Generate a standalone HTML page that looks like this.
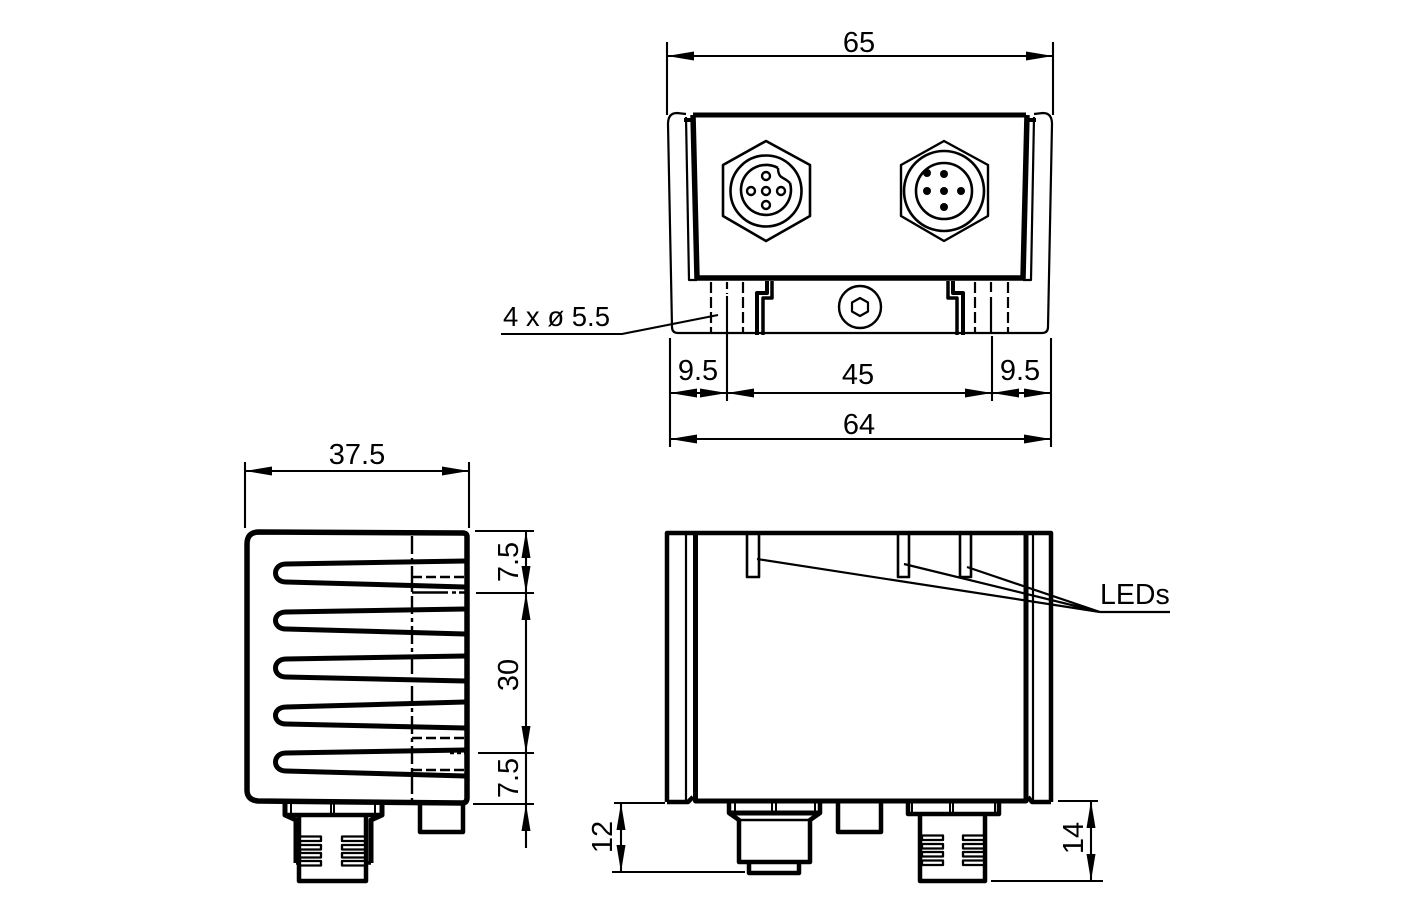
<!DOCTYPE html>
<html lang="en">
<head>
<meta charset="utf-8">
<title>Drawing</title>
<style>
html,body{margin:0;padding:0;background:#fff}
svg{display:block}
text{font-family:"Liberation Sans",sans-serif;font-size:29px;fill:#000}
</style>
</head>
<body>
<svg width="1417" height="909" viewBox="0 0 1417 909" xmlns="http://www.w3.org/2000/svg">
<defs>
<marker id="a" markerUnits="userSpaceOnUse" markerWidth="28" markerHeight="10" refX="27" refY="5" orient="auto-start-reverse">
<path d="M0 0.500L27 5L0 9.500Z" fill="#000"/>
</marker>
</defs>

<!-- TOP VIEW -->
<g fill="none" stroke="#000" stroke-linejoin="round">
<path d="M686 114L677 113Q668 113 668 124L672 327Q672 333 678 333L1042 333Q1048 333 1048 327L1052 124Q1052 113 1043 113L1034 114" stroke-width="2.200"/>
<path d="M686 117L689 280L697 280M1034 117L1031 280L1023 280" stroke-width="2.200"/>
<path d="M684 120L693 120M1027 120L1036 120" stroke-width="4"/>
<path d="M693 115L1026 115" stroke-width="5"/>
<path d="M693 115L697 278L1023 278L1027 115" stroke-width="5.500"/>
<!-- hex 1 -->
<path d="M766 141L810 165L810 216L766 241L723 216L723 165Z" stroke-width="2.600"/>
<circle cx="766" cy="191" r="35.500" stroke-width="2.600"/>
<path d="M778 168A25 25 0 1 0 790 183" stroke-width="2.600"/>
<path d="M778 168Q778 176 783 178Q787 180 790 183" stroke-width="2.400"/>
<circle cx="766" cy="176" r="4" stroke-width="2.400"/>
<circle cx="766" cy="191" r="4" stroke-width="2.400"/>
<circle cx="766" cy="205" r="4" stroke-width="2.400"/>
<circle cx="751" cy="191" r="4" stroke-width="2.400"/>
<circle cx="781" cy="191" r="4" stroke-width="2.400"/>
<!-- hex 2 -->
<path d="M944 141L988 165L988 216L944 241L901 216L901 165Z" stroke-width="2.400"/>
<circle cx="944" cy="191" r="40" stroke-width="2.600"/>
<circle cx="944" cy="191" r="28" stroke-width="2.600"/>
<g fill="#000" stroke="none">
<circle cx="927" cy="173" r="4"/><circle cx="944" cy="174" r="4"/>
<circle cx="927" cy="191" r="4"/><circle cx="944" cy="191" r="4"/><circle cx="961" cy="191" r="4"/>
<circle cx="944" cy="207" r="4"/>
</g>
<!-- steps -->
<path d="M757 335L757 293L767 293L767 281" stroke-width="4"/>
<path d="M763 335L763 298L772 298L772 281" stroke-width="3.500"/>
<path d="M963 335L963 293L953 293L953 281" stroke-width="4"/>
<path d="M957 335L957 298L948 298L948 281" stroke-width="3.500"/>
<!-- screw -->
<circle cx="860" cy="307" r="21" stroke-width="2.400"/>
<path d="M860 298L868 302.500L868 311.500L860 316L852 311.500L852 302.500Z" stroke-width="2.200"/>
<!-- hidden lines -->
<path d="M711 282L711 333M743 282L743 333M975 282L975 333M1008 282L1008 333" stroke-width="2.200" stroke-dasharray="11 4"/>
<path d="M727 282L727 294" stroke-width="2.200" stroke-dasharray="7 4"/>
<path d="M991 282L991 333" stroke-width="2.200" stroke-dasharray="10 5 33 0"/>
</g>

<!-- TOP VIEW DIMENSIONS -->
<g fill="none" stroke="#000" stroke-width="2.100">
<path d="M667 42L667 115M1053 42L1053 115"/>
<path d="M667 56L1053 56" marker-start="url(#a)" marker-end="url(#a)"/>
<path d="M670 338L670 447M1051 338L1051 447M727 296L727 401M992 336L992 401"/>
<path d="M670 393L727 393" marker-start="url(#a)"/>
<path d="M727 393L700 393" marker-start="url(#a)"/>
<path d="M727 393L992 393" marker-start="url(#a)" marker-end="url(#a)"/>
<path d="M992 393L1051 393" marker-start="url(#a)" marker-end="url(#a)"/>
<path d="M670 439L1051 439" marker-start="url(#a)" marker-end="url(#a)"/>
<path d="M501 334L622 334L718 315"/>
</g>
<text x="859" y="52" text-anchor="middle">65</text>
<text x="698" y="380" text-anchor="middle">9.5</text>
<text x="858" y="384" text-anchor="middle">45</text>
<text x="1020" y="380" text-anchor="middle">9.5</text>
<text x="859" y="434" text-anchor="middle">64</text>
<text x="503" y="326" style="font-size:27.500px">4 x ø 5.5</text>

<!-- SIDE VIEW -->
<g fill="none" stroke="#000" stroke-linejoin="round" stroke-linecap="round">
<path d="M259 532L463 533Q467 533 467 537L467 798Q467 803 462 803L258 801Q247 800 247 790L247 544Q247 532 259 532Z" stroke-width="5.500"/>
<g stroke-width="5">
<path d="M465 561L286 564C272 564 272 582 286 582L465 587"/>
<path d="M465 609L286 612C272 612 272 629 286 629L465 634"/>
<path d="M465 656L286 659C272 659 272 677 286 677L465 681"/>
<path d="M465 702L286 707C272 707 272 724 286 724L465 728"/>
<path d="M465 750L286 753C272 753 272 771 286 771L465 776"/>
</g>
</g>
<g fill="none" stroke="#000" stroke-width="2.400">
<path d="M412 536L412 802" stroke-dasharray="18 4 4 4"/>
<path d="M412 577L465 577M412 738L465 738M412 770L465 770" stroke-dasharray="10 4"/>
<path d="M412 592.500L448 592.500M452 592.500L456 592.500M459 592.500L465 592.500"/>
<path d="M450 753L465 753" stroke-dasharray="4 3"/>
</g>
<!-- side connector -->
<g fill="none" stroke="#000" stroke-linejoin="round">
<path d="M285 803L285 815L296 820L296 863M382 803L382 815L371 820L371 863" stroke-width="5"/>
<path d="M285 815L382 815" stroke-width="4.500"/>
<path d="M291 803L291 814M331 803L331 814M334 803L334 814M375 803L375 814" stroke-width="2"/>
<path d="M299 816L299 881L366 881L366 816" stroke-width="4.500"/>
<path d="M296 863L299 863M366 863L371 863" stroke-width="3.500"/>
<g fill="#fff" stroke-width="2.300">
<rect x="300" y="836.500" width="21" height="4.500"/><rect x="300" y="845" width="21" height="4.500"/><rect x="300" y="853" width="21" height="4.500"/><rect x="300" y="861" width="21" height="4.500"/>
<rect x="342" y="836.500" width="23" height="4.500"/><rect x="342" y="845" width="23" height="4.500"/><rect x="342" y="853" width="23" height="4.500"/><rect x="342" y="861" width="23" height="4.500"/>
</g>
<path d="M420 804L420 832L463 832L463 804" stroke-width="4.500"/>
</g>

<!-- SIDE DIMENSIONS -->
<g fill="none" stroke="#000" stroke-width="2.100">
<path d="M245 462L245 528M469 462L469 528"/>
<path d="M245 471L469 471" marker-start="url(#a)" marker-end="url(#a)"/>
<path d="M475 531L534 531M476 593L534 593M478 753L534 753M473 804L534 804"/>
<path d="M526 531L526 593" marker-start="url(#a)" marker-end="url(#a)"/>
<path d="M526 593L526 753" marker-start="url(#a)" marker-end="url(#a)"/>
<path d="M526 753L526 804"/>
<path d="M526 848L526 804" marker-end="url(#a)"/>
</g>
<text x="357" y="464" text-anchor="middle">37.5</text>
<text transform="translate(518 562) rotate(-90)" text-anchor="middle">7.5</text>
<text transform="translate(518 675) rotate(-90)" text-anchor="middle">30</text>
<text transform="translate(518 778) rotate(-90)" text-anchor="middle">7.5</text>

<!-- FRONT VIEW -->
<g fill="none" stroke="#000" stroke-linejoin="round">
<path d="M667 802L667 533L1051 533L1051 802" stroke-width="4.500"/>
<path d="M667 802L688 802L693 797M1051 802L1032 802L1028 797" stroke-width="4.500"/>
<path d="M686 535L686 800M1033 535L1033 800" stroke-width="2.200"/>
<path d="M695.500 535L695.500 801L1026 801L1026 535" stroke-width="5"/>
<path d="M747 535L747 577L759 577L759 535M898 535L898 577L909 577L909 535M960 535L960 577L971 577L971 535" stroke-width="2.600"/>
<path d="M757 559L1100 612M904 564L1100 612M967 567L1100 612M1100 612L1170 612" stroke-width="2.200"/>
<!-- left connector -->
<path d="M729 803L729 813L739 820L739 862L810 862L810 820L820 813L820 803" stroke-width="4.500"/>
<path d="M729 813L820 813" stroke-width="5"/>
<path d="M739 820L810 820" stroke-width="2.400"/>
<path d="M735 803L735 812M772 803L772 812M776 803L776 812M815 803L815 812" stroke-width="2"/>
<path d="M749 863L749 873L799 873L799 863" stroke-width="4.500"/>
<!-- block -->
<path d="M838 803L838 832L881 832L881 803" stroke-width="4.500"/>
<!-- right connector -->
<path d="M908 803L908 814L999 814L999 803" stroke-width="4.500"/>
<path d="M912 803L912 812M950 803L950 812M953 803L953 812M995 803L995 812" stroke-width="2"/>
<path d="M920 815L920 881L985 881L985 815" stroke-width="4.500"/>
<g fill="#fff" stroke-width="2.300">
<rect x="922" y="835.500" width="21" height="4.500"/><rect x="922" y="844" width="21" height="4.500"/><rect x="922" y="852" width="21" height="4.500"/><rect x="922" y="860.500" width="21" height="4.500"/>
<rect x="963" y="835.500" width="21" height="4.500"/><rect x="963" y="844" width="21" height="4.500"/><rect x="963" y="852" width="21" height="4.500"/><rect x="963" y="860.500" width="21" height="4.500"/>
</g>
</g>

<!-- FRONT DIMENSIONS -->
<g fill="none" stroke="#000" stroke-width="2.100">
<path d="M614 803L665 803M612 872L745 872"/>
<path d="M621 803L621 872" marker-start="url(#a)" marker-end="url(#a)"/>
<path d="M1058 801L1098 801M991 881L1103 881"/>
<path d="M1091 801L1091 881" marker-start="url(#a)" marker-end="url(#a)"/>
</g>
<text transform="translate(612 837) rotate(-90)" text-anchor="middle">12</text>
<text transform="translate(1083 838) rotate(-90)" text-anchor="middle">14</text>
<text x="1100" y="604" style="font-size:28.500px">LEDs</text>
</svg>
</body>
</html>
